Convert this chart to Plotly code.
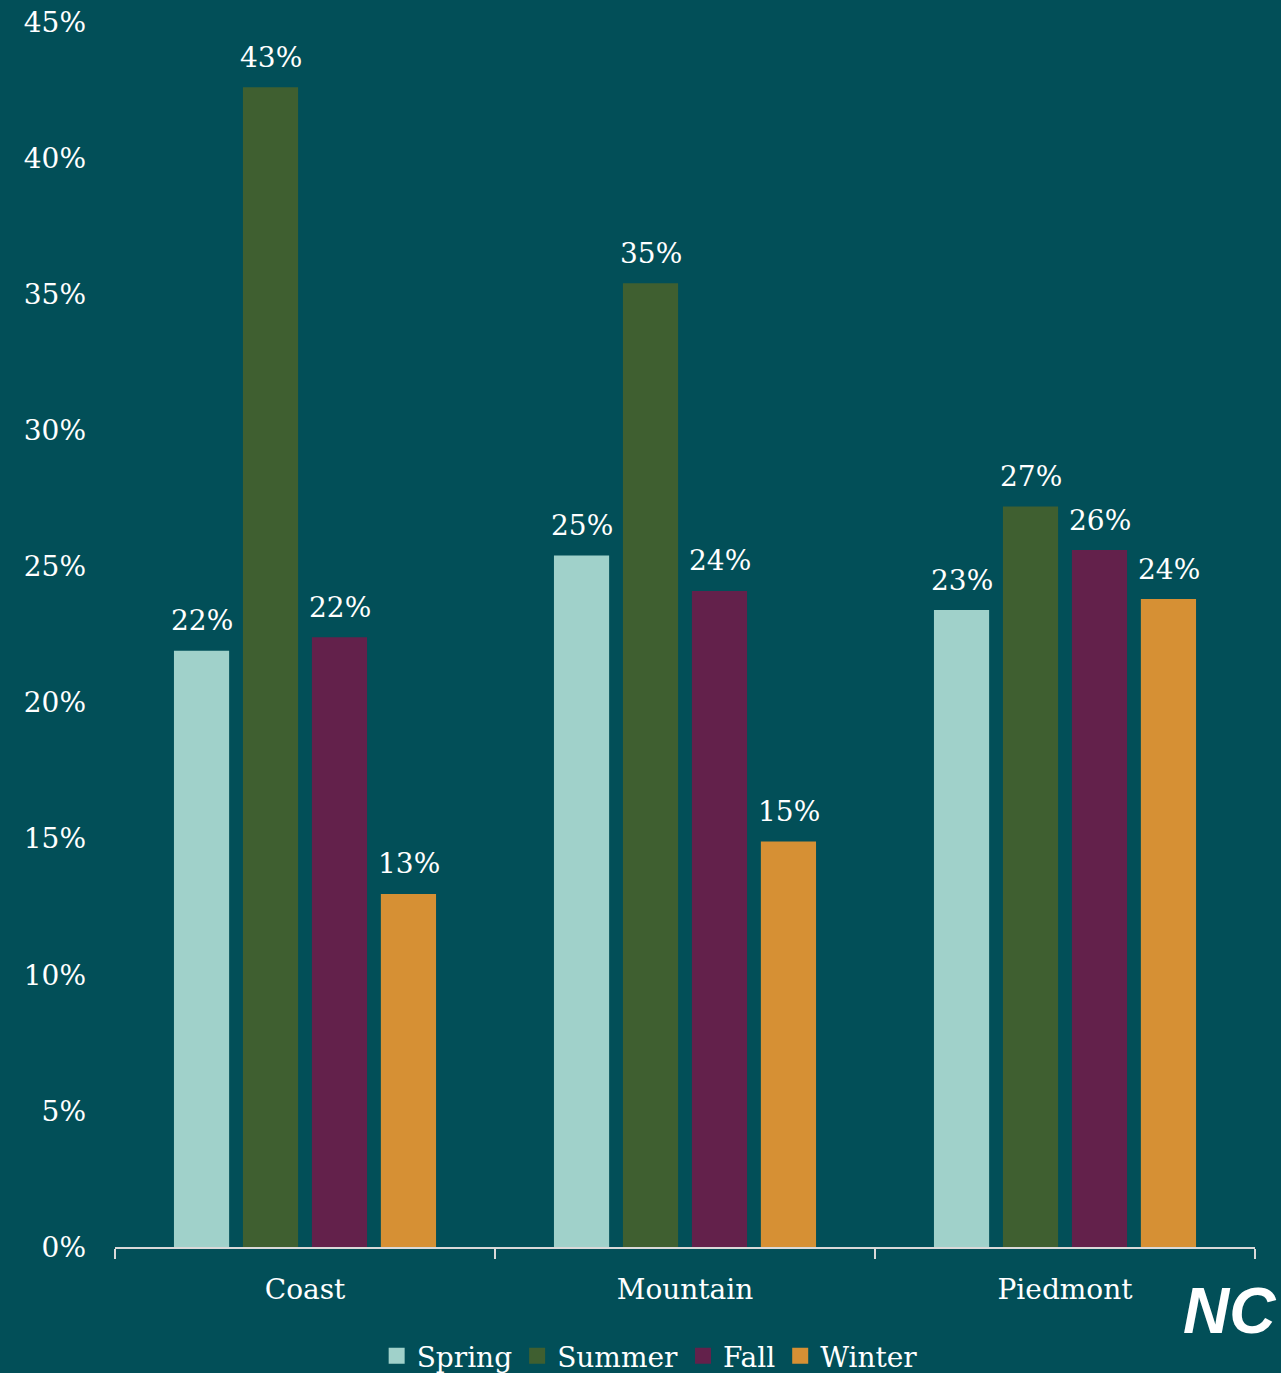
import plotly.graph_objects as go

regions = ["Coast", "Mountain", "Piedmont"]
seasons = ["Spring", "Summer", "Fall", "Winter"]
spring = [21.9, 25.4, 23.4]
summer = [42.6, 35.4, 27.2]
fall = [22.4, 24.1, 25.6]
winter = [12.97, 14.9, 23.8]
colors = ["#A0D1CA", "#3F5F30", "#63214B", "#D69034"]

BG = "#024F58"
FONT = "DejaVu Serif"
FS = 28

fig = go.Figure()
series = [spring, summer, fall, winter]
for name, vals, col in zip(seasons, series, colors):
    fig.add_trace(go.Bar(
        x=regions, y=vals, name=name, marker=dict(color=col, line=dict(width=0)),
        showlegend=False, hoverinfo="x+y+name",
    ))
# value labels above bars (placed via axis scale, shifted to each bar of the group)
pitch = 69
for i, vals in enumerate(series):
    for reg, v in zip(regions, vals):
        fig.add_annotation(
            x=reg, y=v, xref="x", yref="y", text=f"{v:.0f}%", showarrow=False,
            xshift=(i - 1.5) * pitch, yshift=30, yanchor="middle",
            font=dict(family=FONT, size=FS, color="white"),
        )
# legend entries (square swatches)
for name, col in zip(seasons, colors):
    fig.add_trace(go.Scatter(
        x=[None], y=[None], mode="markers", name=name,
        marker=dict(symbol="square", size=16, color=col),
    ))

fig.update_layout(
    width=1281, height=1373,
    paper_bgcolor=BG, plot_bgcolor=BG,
    margin=dict(l=115, r=26, t=22, b=126, autoexpand=False),
    barmode="group", bargap=0.274, bargroupgap=0.2,
    font=dict(family=FONT, size=FS, color="white"),
    showlegend=True,
    legend=dict(orientation="h", x=0.469, xanchor="center", y=-(1356 - 1247) / 1225, yanchor="middle",
                font=dict(family=FONT, size=FS, color="white"),
                itemsizing="trace", itemwidth=30, bgcolor="rgba(0,0,0,0)"),
    xaxis=dict(range=[-0.5, 2.5], showline=True, linecolor="#D9D9D9", linewidth=2,
               ticks="outside", tickson="boundaries", ticklen=10, tickwidth=2, tickcolor="#D9D9D9",
               tickfont=dict(family=FONT, size=FS, color="white"), showgrid=False,
               ticklabelstandoff=16),
    yaxis=dict(range=[0, 45], dtick=5, ticksuffix="%", showgrid=False, zeroline=False,
               showline=False, tickfont=dict(family=FONT, size=FS, color="white"),
               ticklabelstandoff=28),
)

fig.add_annotation(
    text="<b><i>NC</i></b>", xref="paper", yref="paper",
    x=(1278 - 115) / 1140, xanchor="right", y=-(1311 - 1247) / 1225, yanchor="middle",
    showarrow=False, font=dict(family="Liberation Sans", size=64, color="white"),
)

fig.write_html("out.html", config={"displayModeBar": False},
               post_script="document.body.style.margin='0';document.body.style.overflow='hidden';")
